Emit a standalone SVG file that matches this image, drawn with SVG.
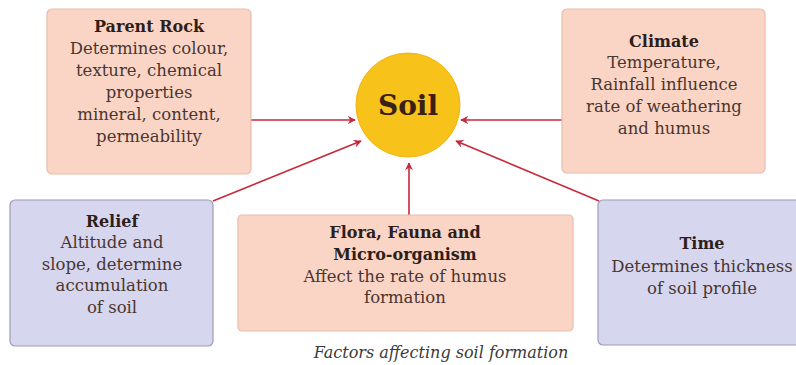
<svg xmlns="http://www.w3.org/2000/svg" width="796" height="365" viewBox="0 0 796 365">
<style>
.pink{fill:#fad5c6;stroke:#e9bcab;stroke-width:1.2}
.blue{fill:#d6d6ee;stroke:#9c9cb4;stroke-width:1.2}
text{font-family:"DejaVu Serif","Liberation Serif",serif;font-size:16.5px;fill:#4a3530;text-anchor:middle}
.t{font-weight:bold;fill:#2e1e1a;font-size:16px}
.c{stroke:#c8283c;stroke-width:1.6;fill:none;marker-end:url(#ah)}
</style>
<defs>
<marker id="ah" viewBox="0 0 10 10" refX="9" refY="5" markerWidth="8" markerHeight="8" orient="auto" markerUnits="userSpaceOnUse">
<path d="M0,0 L10,5 L0,10 L3,5 Z" fill="#c8283c"/>
</marker>
</defs>
<rect width="796" height="365" fill="#ffffff"/>
<g id="connectors">
<line class="c" x1="251" y1="120" x2="355" y2="120"/>
<line class="c" x1="562" y1="120" x2="461" y2="120"/>
<line class="c" x1="213" y1="201" x2="361" y2="141"/>
<line class="c" x1="599" y1="201" x2="456" y2="141"/>
<line class="c" x1="409" y1="215" x2="409" y2="163"/>
</g>
<g id="soil">
<circle cx="408" cy="105" r="52" fill="#f7c21a" stroke="#f3b30c" stroke-width="1"/>
<text x="408" y="115" class="t" style="font-size:28px;fill:#3a2016">Soil</text>
</g>
<g id="parent-rock">
<rect class="pink" x="47" y="9" width="204" height="165" rx="5"/>
<text x="149" y="32" class="t">Parent Rock</text>
<text x="149" y="54">Determines colour,</text>
<text x="149" y="76">texture, chemical</text>
<text x="149" y="98">properties</text>
<text x="149" y="120">mineral, content,</text>
<text x="149" y="142">permeability</text>
</g>
<g id="climate">
<rect class="pink" x="562" y="9" width="203" height="164" rx="5"/>
<text x="664" y="47" class="t">Climate</text>
<text x="664" y="68">Temperature,</text>
<text x="664" y="90">Rainfall influence</text>
<text x="664" y="112">rate of weathering</text>
<text x="664" y="134">and humus</text>
</g>
<g id="relief">
<rect class="blue" x="10" y="200" width="203" height="146" rx="5"/>
<text x="112" y="227" class="t">Relief</text>
<text x="112" y="248">Altitude and</text>
<text x="112" y="270">slope, determine</text>
<text x="112" y="291">accumulation</text>
<text x="112" y="313">of soil</text>
</g>
<g id="flora">
<rect class="pink" x="238" y="215" width="335" height="116" rx="4"/>
<text x="405" y="238" class="t">Flora, Fauna and</text>
<text x="405" y="260" class="t">Micro-organism</text>
<text x="405" y="282">Affect the rate of humus</text>
<text x="405" y="303">formation</text>
</g>
<g id="time">
<rect class="blue" x="598" y="200" width="210" height="145" rx="5"/>
<text x="702" y="249" class="t">Time</text>
<text x="702" y="272">Determines thickness</text>
<text x="702" y="294">of soil profile</text>
</g>
<text x="441" y="358" style="font-style:italic;font-size:16px;fill:#3a3a3a">Factors affecting soil formation</text>
</svg>
